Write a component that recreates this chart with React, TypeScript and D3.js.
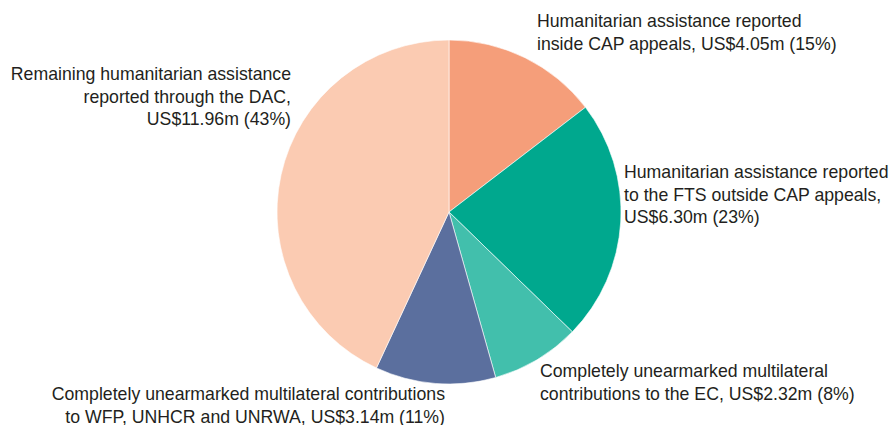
import React from "react";
import * as d3 from "d3";

const categories = [
  "Humanitarian assistance reported inside CAP appeals",
  "Humanitarian assistance reported to the FTS outside CAP appeals",
  "Completely unearmarked multilateral contributions to the EC",
  "Completely unearmarked multilateral contributions to WFP, UNHCR and UNRWA",
  "Remaining humanitarian assistance reported through the DAC",
];
const values = [4.05, 6.3, 2.32, 3.14, 11.96];
const percents = [15, 23, 8, 11, 43];
const colors = ["#f59e7a", "#00a88e", "#42bfac", "#5b6f9e", "#fbcbb2"];

const labelLines: string[][] = [
  ["Humanitarian assistance reported", "inside CAP appeals, US$4.05m (15%)"],
  ["Humanitarian assistance reported", "to the FTS outside CAP appeals,", "US$6.30m (23%)"],
  ["Completely unearmarked multilateral", "contributions to the EC, US$2.32m (8%)"],
  ["Completely unearmarked multilateral contributions", "to WFP, UNHCR and UNRWA, US$3.14m (11%)"],
  ["Remaining humanitarian assistance", "reported through the DAC,", "US$11.96m (43%)"],
];
const labelPos = [
  { x: 537, y: 27, anchor: "start" },
  { x: 624, y: 178, anchor: "start" },
  { x: 540, y: 377, anchor: "start" },
  { x: 445, y: 400, anchor: "end" },
  { x: 291, y: 80, anchor: "end" },
];

export default function App() {
  const W = 889, H = 425;
  const cx = 449, cy = 212, r = 172;
  const pie = d3.pie<number>().sort(null).value((d) => d)(values);
  const arc = d3.arc<d3.PieArcDatum<number>>().innerRadius(0).outerRadius(r);
  return (
    <svg width={W} height={H} style={{ position: "absolute", left: 0, top: 0 }}>
      <rect width={W} height={H} fill="#fff" />
      <g transform={`translate(${cx},${cy})`}>
        {pie.map((p, i) => (
          <path key={categories[i]} d={arc(p) || ""} fill={colors[i]} stroke="#fff" strokeWidth={0.6} />
        ))}
      </g>
      {labelLines.map((lines, i) => (
        <text
          key={i}
          x={labelPos[i].x}
          y={labelPos[i].y}
          textAnchor={labelPos[i].anchor as any}
          fontFamily="'Liberation Sans', Arial, sans-serif"
          fontSize={17.7}
          fill="#231f20"
        >
          {lines.map((l, j) => (
            <tspan key={j} x={labelPos[i].x} dy={j === 0 ? 0 : 22.5}>
              {l}
            </tspan>
          ))}
        </text>
      ))}
    </svg>
  );
}
